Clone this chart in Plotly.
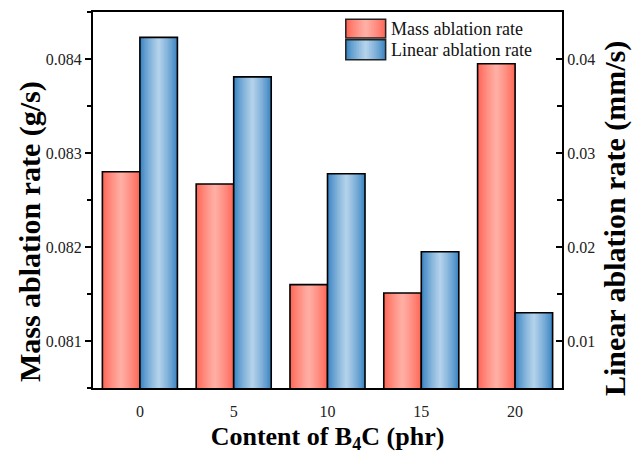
import plotly.graph_objects as go

# B4C content (phr) and the two measured ablation rates
content = ["0", "5", "10", "15", "20"]
mass_rate = [0.0828, 0.08267, 0.0816, 0.08151, 0.08395]      # g/s
linear_rate = [0.0423, 0.0381, 0.0278, 0.0195, 0.0130]      # mm/s

series_names = ["Mass ablation rate", "Linear ablation rate"]

RED_EDGE, RED_MID = (255, 100, 84), (255, 174, 164)
BLUE_EDGE, BLUE_MID = (56, 131, 193), (178, 209, 234)

FONT = "Liberation Serif"
BAR_W = 0.4
LAYERS = 14


def mix(c1, c2, t):
    return "rgb({},{},{})".format(*[round(a + (b - a) * t) for a, b in zip(c1, c2)])


fig = go.Figure()


def add_gradient_bars(values, center, edge, mid, yaxis):
    # nested bars of shrinking width give a horizontal edge-to-centre shading
    for k in range(LAYERS):
        w = BAR_W * (1 - k / LAYERS)
        t = (k / (LAYERS - 1)) ** 0.8
        fig.add_trace(go.Bar(
            x=content, y=values, width=w, offset=center - w / 2,
            marker=dict(color=mix(edge, mid, t), line=dict(width=0)),
            yaxis=yaxis, showlegend=False, hoverinfo="skip",
        ))
    # black outline on top
    fig.add_trace(go.Bar(
        x=content, y=values, width=BAR_W, offset=center - BAR_W / 2,
        marker=dict(color="rgba(0,0,0,0)", line=dict(color="black", width=1.6)),
        yaxis=yaxis, showlegend=False,
    ))


add_gradient_bars(mass_rate, -BAR_W / 2, RED_EDGE, RED_MID, "y")
add_gradient_bars(linear_rate, BAR_W / 2, BLUE_EDGE, BLUE_MID, "y2")

# legend box drawn as shaded swatches with labels
shapes = []
annotations = []
swatches = [
    (series_names[0], RED_EDGE, RED_MID, 0.981, 0.931),
    (series_names[1], BLUE_EDGE, BLUE_MID, 0.926, 0.873),
]
SX0, SX1 = 0.539, 0.624
for name, edge, mid, y0, y1 in swatches:
    n = 12
    half = (SX1 - SX0) / 2
    cx = (SX0 + SX1) / 2
    for k in range(n):
        hw = half * (1 - k / n)
        t = (k / (n - 1)) ** 0.8
        shapes.append(dict(type="rect", xref="paper", yref="paper",
                           x0=cx - hw, x1=cx + hw, y0=y1, y1=y0,
                           fillcolor=mix(edge, mid, t), line=dict(width=0), layer="above"))
    shapes.append(dict(type="rect", xref="paper", yref="paper",
                       x0=SX0, x1=SX1, y0=y1, y1=y0,
                       fillcolor="rgba(0,0,0,0)", line=dict(color="#222", width=1.5), layer="above"))
    annotations.append(dict(text=name, xref="paper", yref="paper",
                            x=0.632, y=(y0 + y1) / 2, xanchor="left", yanchor="middle",
                            showarrow=False, font=dict(family=FONT, size=18, color="#111")))

x_title_font = dict(family=FONT, size=26, color="black", weight="bold")
y_title_font = dict(family=FONT, size=30, color="black", weight="bold")
tick_font = dict(family=FONT, size=16, color="#222")

# vertical axis titles
annotations.append(dict(text="Mass ablation rate (g/s)", textangle=-90,
                        xref="paper", yref="paper", x=-0.134, y=0.415,
                        xanchor="center", yanchor="middle", showarrow=False,
                        font=y_title_font))
annotations.append(dict(text="Linear ablation rate (mm/s)", textangle=-90,
                        xref="paper", yref="paper", x=1.113, y=0.452,
                        xanchor="center", yanchor="middle", showarrow=False,
                        font=y_title_font))

fig.update_layout(
    width=635, height=454,
    margin=dict(l=93, r=73, t=12, b=66),
    paper_bgcolor="white", plot_bgcolor="white",
    barmode="overlay",
    showlegend=False,
    shapes=shapes,
    annotations=annotations,
    xaxis=dict(
        type="category", range=[-0.5, 4.5], automargin=False,
        showline=True, linecolor="black", linewidth=2, mirror=True,
        ticks="", showgrid=False, tickfont=tick_font, ticklabelstandoff=8,
        title=dict(text="Content of B<sub>4</sub>C (phr)", font=x_title_font, standoff=10),
    ),
    yaxis=dict(
        range=[0.0805, 0.0845], dtick=0.001, tickformat=".3f", automargin=False,
        showline=True, linecolor="black", linewidth=2,
        ticks="outside", ticklen=6, tickwidth=1.5, tickcolor="black",
        minor=dict(dtick=0.0005, ticks="outside", ticklen=4, tickwidth=1.5, tickcolor="black"),
        showgrid=False, zeroline=False, tickfont=tick_font,
    ),
    yaxis2=dict(
        overlaying="y", side="right", automargin=False,
        range=[0.005, 0.045], dtick=0.01, tickformat=".2f",
        showline=True, linecolor="black", linewidth=2,
        ticks="inside", ticklen=6, tickwidth=1.5, tickcolor="black",
        minor=dict(dtick=0.005, ticks="inside", ticklen=5, tickwidth=1.5, tickcolor="black"),
        showgrid=False, zeroline=False, tickfont=tick_font,
    ),
)

fig.write_html("out.html")
